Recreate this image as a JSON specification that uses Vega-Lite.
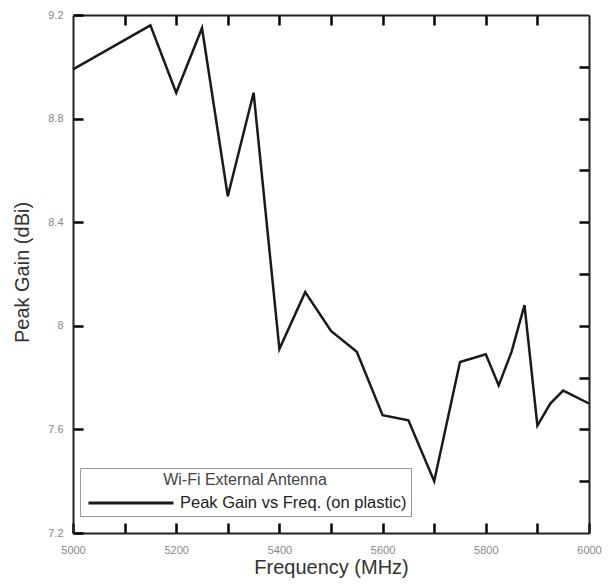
{
  "$schema": "https://vega.github.io/schema/vega-lite/v6.json",
  "width": 516,
  "height": 518,
  "autosize": "none",
  "padding": {"left": 73, "top": 15, "right": 24, "bottom": 52},
  "background": "white",
  "config": {
    "view": {"stroke": null},
    "font": "Liberation Sans",
    "axis": {
      "grid": false,
      "domainColor": "#222",
      "domainWidth": 2,
      "tickWidth": 2.5,
      "labelFlush": false,
      "labelOverlap": false,
      "labelColor": "#888",
      "labelFontSize": 11,
      "titleColor": "#333",
      "titleFontSize": 20,
      "titleFontWeight": "normal"
    }
  },
  "data": {
    "values": [
      {"freq": 5000, "gain": 8.99},
      {"freq": 5150, "gain": 9.16},
      {"freq": 5200, "gain": 8.9},
      {"freq": 5250, "gain": 9.15},
      {"freq": 5300, "gain": 8.5},
      {"freq": 5350, "gain": 8.9},
      {"freq": 5400, "gain": 7.91},
      {"freq": 5450, "gain": 8.13},
      {"freq": 5500, "gain": 7.98},
      {"freq": 5550, "gain": 7.9},
      {"freq": 5600, "gain": 7.655},
      {"freq": 5650, "gain": 7.635},
      {"freq": 5700, "gain": 7.4},
      {"freq": 5750, "gain": 7.86},
      {"freq": 5800, "gain": 7.89},
      {"freq": 5825, "gain": 7.77},
      {"freq": 5850, "gain": 7.9},
      {"freq": 5875, "gain": 8.08},
      {"freq": 5900, "gain": 7.615},
      {"freq": 5925, "gain": 7.7},
      {"freq": 5950, "gain": 7.75},
      {"freq": 6000, "gain": 7.7}
    ]
  },
  "resolve": {"axis": {"x": "independent", "y": "independent"}},
  "layer": [
    {
      "mark": {"type": "line", "strokeWidth": 2.5},
      "encoding": {
        "x": {
          "field": "freq",
          "type": "quantitative",
          "scale": {"domain": [5000, 6000], "nice": false, "zero": false},
          "axis": {
            "orient": "bottom",
            "title": "Frequency (MHz)",
            "values": [5000, 5100, 5200, 5300, 5400, 5500, 5600, 5700, 5800, 5900, 6000],
            "labelExpr": "datum.value % 200 === 0 ? '' + datum.value : ''",
            "ticks": true,
            "tickSize": -10,
            "tickColor": "black",
            "labelPadding": 21,
            "titleY": 40,
            "titleBaseline": "alphabetic"
          }
        },
        "y": {
          "field": "gain",
          "type": "quantitative",
          "scale": {"domain": [7.2, 9.2], "nice": false, "zero": false},
          "axis": {
            "orient": "left",
            "title": "Peak Gain (dBi)",
            "values": [7.2, 7.6, 8, 8.4, 8.8, 9.2],
            "labelExpr": "'' + datum.value",
            "ticks": true,
            "tickSize": -10,
            "tickColor": "black",
            "labelPadding": 20,
            "titleX": -45,
            "titleY": 257,
            "titleBaseline": "alphabetic"
          }
        },
        "color": {
          "datum": "Peak Gain vs Freq. (on plastic)",
          "type": "nominal",
          "scale": {"range": ["#1a1a1a"]},
          "legend": {
            "orient": "none",
            "legendX": 7,
            "legendY": 453,
            "title": "Wi-Fi External Antenna",
            "titleAnchor": "middle",
            "titleFontSize": 16,
            "titleFontWeight": "normal",
            "titleColor": "#444",
            "titlePadding": 5,
            "labelFontSize": 16.5,
            "labelColor": "#222",
            "labelLimit": 400,
            "labelOffset": 76,
            "symbolType": "M-0.65,0H9.35",
            "symbolSize": 289,
            "symbolStrokeWidth": 3,
            "strokeColor": "#999",
            "fillColor": "white",
            "padding": 4
          }
        }
      }
    },
    {
      "mark": {"type": "line", "opacity": 0},
      "encoding": {
        "x": {
          "field": "freq",
          "type": "quantitative",
          "scale": {"domain": [5000, 6000], "nice": false, "zero": false},
          "axis": {
            "orient": "top",
            "title": null,
            "labels": false,
            "ticks": true,
            "tickSize": -10,
            "tickColor": "black",
            "values": [5100, 5200, 5300, 5400, 5500, 5600, 5700, 5800, 5900]
          }
        },
        "y": {
          "field": "gain",
          "type": "quantitative",
          "scale": {"domain": [7.2, 9.2], "nice": false, "zero": false},
          "axis": {
            "orient": "right",
            "title": null,
            "labels": false,
            "ticks": true,
            "tickSize": -10,
            "tickColor": "black",
            "values": [7.4, 7.6, 7.8, 8, 8.2, 8.4, 8.6, 8.8, 9.0]
          }
        }
      }
    }
  ]
}
